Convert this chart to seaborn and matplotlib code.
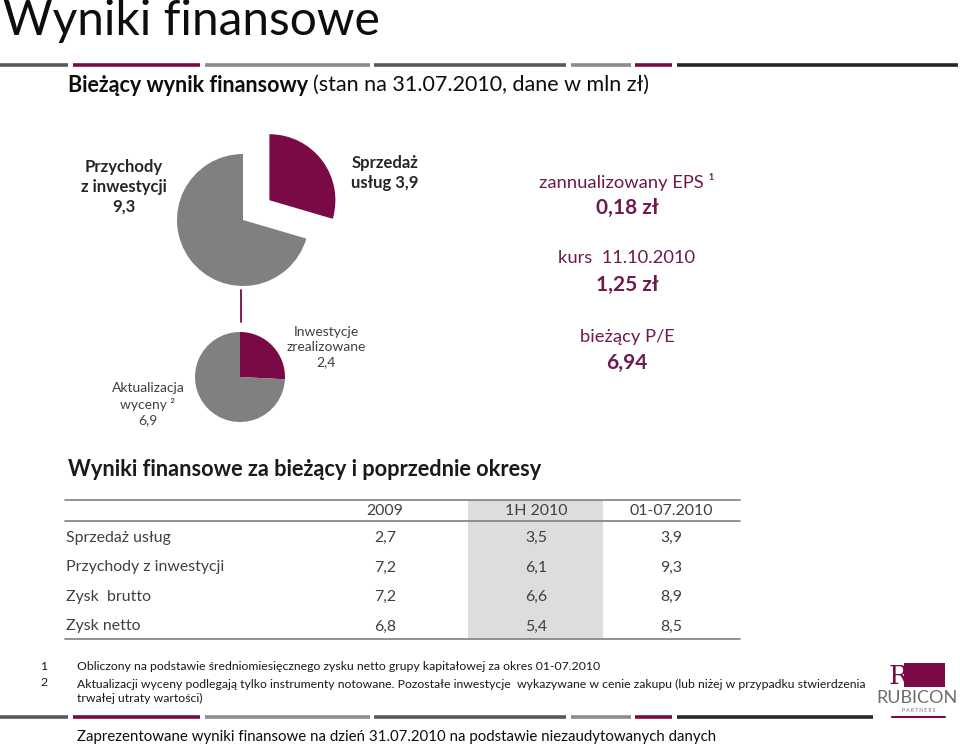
import numpy as np
import pandas as pd
import seaborn as sns
import matplotlib.pyplot as plt
from matplotlib.patches import Rectangle

# data (mln zł)
revenue_names = ["Sprzedaż\nusług", "Przychody\nz inwestycji"]
revenue_values = [3.9, 9.3]
invest_names = ["Inwestycje\nzrealizowane", "Aktualizacja\nwyceny ²"]
invest_values = [2.4, 6.9]

eps = 0.18
price = 1.25
pe = 6.94
price_date = "11.10.2010"

periods = ["2009", "1H 2010", "01-07.2010"]
row_labels = ["Sprzedaż usług", "Przychody z inwestycji", "Zysk  brutto", "Zysk netto"]
sprzedaz = [2.7, 3.5, 3.9]
przychody = [7.2, 6.1, 9.3]
zysk_brutto = [7.2, 6.6, 8.9]
zysk_netto = [6.8, 5.4, 8.5]

footnotes = [
    "Obliczony na podstawie średniomiesięcznego zysku netto grupy kapitałowej za okres 01-07.2010",
    "Aktualizacji wyceny podlegają tylko instrumenty notowane. Pozostałe inwestycje  wykazywane w cenie zakupu (lub niżej w przypadku stwierdzenia\ntrwałej utraty wartości)",
]

MAROON = "#7a0a46"
GRAY = "#808080"
DARK = "#595959"
LIGHT = "#8c8c8c"
KPI = "#6e1a4c"

sns.set_theme(style="white")
plt.rcParams['font.family'] = ['Lato', 'DejaVu Sans']

W, H = 960, 747
fig = plt.figure(figsize=(9.6, 7.47), dpi=100)


def px_axes(x0, y0, w, h):
    # axes placed in pixel units, y measured from the top
    return fig.add_axes([x0 / W, (H - y0 - h) / H, w / W, h / H])


def fmt(v, nd=1):
    return f"{v:.{nd}f}".replace(".", ",")


bg = px_axes(0, 0, W, H)
bg.set_xlim(0, W)
bg.set_ylim(H, 0)
bg.axis("off")

# title + decorative bars
bg.text(3, 21, "Wyniki finansowe", fontsize=34.5, color="#0d0d0d", va="center")
segs = [(0, 68, DARK), (73, 200, MAROON), (205, 370, LIGHT), (374, 566, DARK),
        (571, 631, LIGHT), (635, 672, MAROON)]
for y, end in [(65, 958), (717, 873)]:
    for a, b, c in segs:
        bg.plot([a, b], [y, y], color=c, lw=2.6, solid_capstyle="butt")
    bg.plot([677, end], [y, y], color="#262626", lw=2.6, solid_capstyle="butt")

t = bg.text(68, 85, "Bieżący wynik finansowy", fontsize=15.5, fontweight="bold",
            color="#0d0d0d", va="center")
fig.canvas.draw()
bb = t.get_window_extent()
bg.text(bb.x1 + 5, 85, "(stan na 31.07.2010, dane w mln zł)", fontsize=15.5,
        color="#0d0d0d", va="center")

# top pie: revenue split, services slice pulled out
cx1, cy1, r1 = 243, 220, 66
ax1 = px_axes(cx1 - 100, cy1 - 100, 200, 200)
ax1.pie(revenue_values, colors=[MAROON, GRAY], startangle=90, counterclock=False,
        explode=[0.5 * r1, 0], radius=r1, wedgeprops=dict(linewidth=0))
ax1.set_xlim(-100, 100)
ax1.set_ylim(-100, 100)
ax1.set_aspect("auto")
ax1.axis("off")

# bottom pie: investment income split
cx2, cy2, r2 = 240, 377, 45
ax2 = px_axes(cx2 - 70, cy2 - 70, 140, 140)
ax2.pie(invest_values, colors=[MAROON, GRAY], startangle=90, counterclock=False,
        radius=r2, wedgeprops=dict(linewidth=0))
ax2.set_xlim(-70, 70)
ax2.set_ylim(-70, 70)
ax2.set_aspect("auto")
ax2.axis("off")

bg.plot([cx1 - 2, cx1 - 2], [cy1 + r1 + 4, cy2 - r2 - 10], color=MAROON, lw=1.3)

bg.text(124, 187, f"{revenue_names[1]}\n{fmt(revenue_values[1])}", fontsize=12,
        fontweight="bold", color="#262626", ha="center", va="center", linespacing=1.27)
bg.text(385, 173, f"{revenue_names[0]} {fmt(revenue_values[0])}", fontsize=12,
        fontweight="bold", color="#262626", ha="center", va="center", linespacing=1.27)
bg.text(326, 347, f"{invest_names[0]}\n{fmt(invest_values[0])}", fontsize=10,
        color="#404040", ha="center", va="center", linespacing=1.3)
bg.text(148, 404, f"{invest_names[1]}\n{fmt(invest_values[1])}", fontsize=10,
        color="#404040", ha="center", va="center", linespacing=1.35)

# key ratios
kx = 627
bg.text(kx, 182, "zannualizowany EPS ¹", fontsize=13.2, color=KPI, ha="center", va="center")
bg.text(kx, 208, f"{fmt(eps, 2)} zł", fontsize=15, fontweight="bold", color=KPI,
        ha="center", va="center")
bg.text(kx, 258, f"kurs  {price_date}", fontsize=13.2, color=KPI, ha="center", va="center")
bg.text(kx, 285, f"{fmt(price, 2)} zł", fontsize=15, fontweight="bold", color=KPI,
        ha="center", va="center")
bg.text(kx, 337, "bieżący P/E", fontsize=13.2, color=KPI, ha="center", va="center")
bg.text(kx, 363, fmt(pe, 2), fontsize=15, fontweight="bold", color=KPI,
        ha="center", va="center")

bg.text(68, 470, "Wyniki finansowe za bieżący i poprzednie okresy", fontsize=15.7,
        fontweight="bold", color="#1a1a1a", va="center")

# results table
df = pd.DataFrame([sprzedaz, przychody, zysk_brutto, zysk_netto],
                  index=row_labels, columns=periods)
tab = px_axes(60, 494, 685, 150)
tab.set_xlim(60, 745)
tab.set_ylim(644, 494)
tab.axis("off")
col_x = [385, 536, 671]
shade_w = 135
tab.axvspan(col_x[1] - shade_w / 2, col_x[1] + shade_w / 2, ymin=5 / 150, ymax=144 / 150,
            color="#dddddd", lw=0)
for y in [500, 521, 639]:
    tab.plot([65, 740], [y, y], color="#7f7f7f", lw=1.2)
for j, p in enumerate(df.columns):
    tab.text(col_x[j], 511, p, fontsize=11.4, color="#404040", ha="center", va="center")
for i, lab in enumerate(df.index):
    y = 538 + 29.5 * i
    tab.text(66, y, lab, fontsize=11.4, color="#404040", va="center")
    for j, p in enumerate(df.columns):
        tab.text(col_x[j], y, fmt(df.loc[lab, p]), fontsize=11.4, color="#404040",
                 ha="center", va="center")

# footnotes
bg.text(44, 667, "1", fontsize=8.8, color="#1a1a1a", ha="center", va="center")
bg.text(77, 667, footnotes[0], fontsize=8.8, color="#1a1a1a", va="center")
bg.text(44, 683, "2", fontsize=8.8, color="#1a1a1a", ha="center", va="center")
bg.text(77, 691.5, footnotes[1], fontsize=8.8, color="#1a1a1a", va="center",
        linespacing=1.4)

bg.text(77, 737, "Zaprezentowane wyniki finansowe na dzień 31.07.2010 na podstawie niezaudytowanych danych",
        fontsize=10.8, color="#0d0d0d", va="center")

# logo
bg.add_patch(Rectangle((904, 663), 41, 24, color=MAROON, lw=0))
bg.text(889, 676, "R", fontsize=19, color=MAROON, va="center", fontfamily="DejaVu Serif")
bg.text(958, 698, "RUBICON", fontsize=13, color="#6d6d6d", ha="right", va="center")
bg.text(919, 711, "P A R T N E R S", fontsize=3.5, color="#6d6d6d", ha="center", va="center")
bg.plot([892, 945], [717, 717], color=MAROON, lw=1.5)

fig.savefig("out.png", dpi=100)
